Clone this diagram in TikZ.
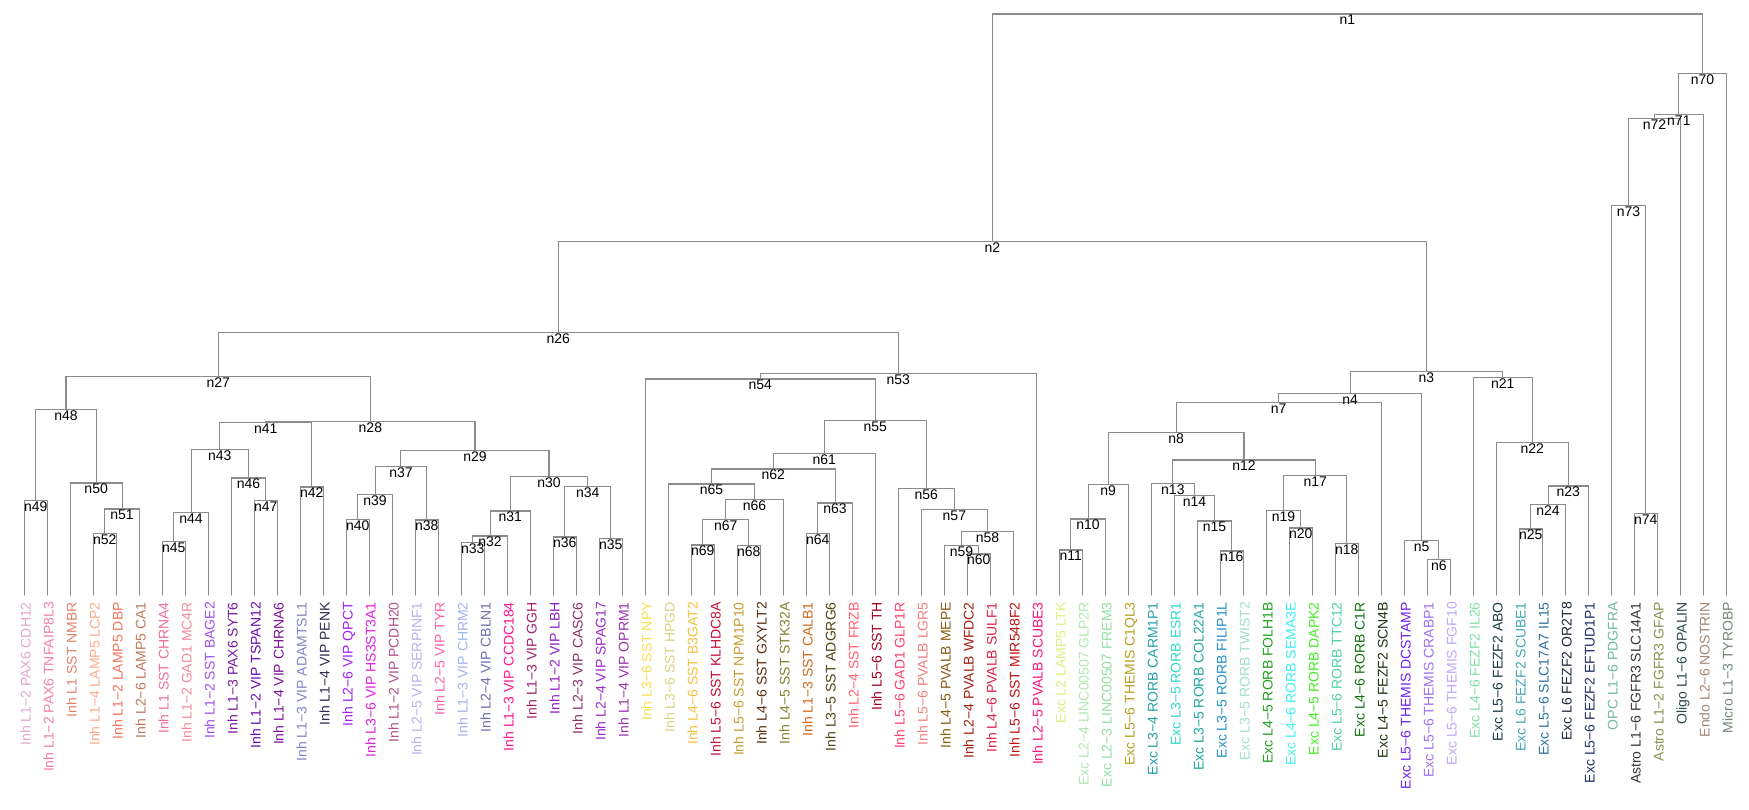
\documentclass[tikz,border=0pt]{standalone}
\usepackage{fontspec}
\setmainfont{Liberation Sans}
\usetikzlibrary{calc}
\tikzset{
  br/.style={draw={rgb,255:red,140;green,140;blue,140}, line width=1.1pt, line cap=round},
  nlab/.style={font=\fontsize{14}{16}\selectfont, inner sep=0pt, anchor=north, yshift=-1pt, text=black},
  leaflab/.style={font=\fontsize{14}{16}\selectfont, inner sep=0pt, rotate=90, anchor=east, text height=10pt, text depth=0pt}
}
\newcommand\dnode[4]{%
  \path let \p1=(#2), \p2=(#3) in coordinate (#1) at ({0.5*(\x1+\x2)},{-#4pt});
  \draw[br] (#2) |- (#1) -| (#3);
  \node[nlab] (lab#1) at (#1) {#1};
}
\begin{document}
\begin{tikzpicture}[x=1pt,y=-1pt]
\useasboundingbox (0,0) rectangle (1749,810);
\foreach \i/\hc/\t in {
1/E0A8CC/{Inh L1−2 PAX6 CDH12},
2/F27EAE/{Inh L1−2 PAX6 TNFAIP8L3},
3/E0826E/{Inh L1 SST NMBR},
4/FFAA88/{Inh L1−4 LAMP5 LCP2},
5/F2735A/{Inh L1−2 LAMP5 DBP},
6/C0785A/{Inh L2−6 LAMP5 CA1},
7/EE6E9A/{Inh L1 SST CHRNA4},
8/F28C9C/{Inh L1−2 GAD1 MC4R},
9/A050F0/{Inh L1−2 SST BAGE2},
10/7A1AA0/{Inh L1−3 PAX6 SYT6},
11/6A0DAD/{Inh L1−2 VIP TSPAN12},
12/7D109A/{Inh L1−4 VIP CHRNA6},
13/7F86C0/{Inh L1−3 VIP ADAMTSL1},
14/2D2D50/{Inh L1−4 VIP PENK},
15/A020F0/{Inh L2−6 VIP QPCT},
16/E020E0/{Inh L3−6 VIP HS3ST3A1},
17/B0508A/{Inh L1−2 VIP PCDH20},
18/B8B0F0/{Inh L2−5 VIP SERPINF1},
19/FF5FA8/{Inh L2−5 VIP TYR},
20/A0B4F0/{Inh L1−3 VIP CHRM2},
21/6E6EA8/{Inh L2−4 VIP CBLN1},
22/FF1493/{Inh L1−3 VIP CCDC184},
23/A0206E/{Inh L1−3 VIP GGH},
24/9020C0/{Inh L1−2 VIP LBH},
25/8B2D6B/{Inh L2−3 VIP CASC6},
26/9B2BC8/{Inh L2−4 VIP SPAG17},
27/9B30B0/{Inh L1−4 VIP OPRM1},
28/F7E050/{Inh L3−6 SST NPY},
29/E0D080/{Inh L3−6 SST HPGD},
30/F5C040/{Inh L4−6 SST B3GAT2},
31/C0103A/{Inh L5−6 SST KLHDC8A},
32/C89B30/{Inh L5−6 SST NPM1P10},
33/5A2D10/{Inh L4−6 SST GXYLT2},
34/8A8030/{Inh L4−5 SST STK32A},
35/D2691E/{Inh L1−3 SST CALB1},
36/5A4010/{Inh L3−5 SST ADGRG6},
37/FF6070/{Inh L2−4 SST FRZB},
38/A00020/{Inh L5−6 SST TH},
39/FF4070/{Inh L5−6 GAD1 GLP1R},
40/F08080/{Inh L5−6 PVALB LGR5},
41/8B5A10/{Inh L4−5 PVALB MEPE},
42/A02010/{Inh L2−4 PVALB WFDC2},
43/E0204A/{Inh L4−6 PVALB SULF1},
44/C01010/{Inh L5−6 SST MIR548F2},
45/FF1480/{Inh L2−5 PVALB SCUBE3},
46/D8F080/{Exc L2 LAMP5 LTK},
47/B0E8B0/{Exc L2−4 LINC00507 GLP2R},
48/90E0A0/{Exc L2−3 LINC00507 FREM3},
49/B0A020/{Exc L5−6 THEMIS C1QL3},
50/20A0A8/{Exc L3−4 RORB CARM1P1},
51/30D8C8/{Exc L3−5 RORB ESR1},
52/20A8A0/{Exc L3−5 RORB COL22A1},
53/2090C8/{Exc L3−5 RORB FILIP1L},
54/A0E0D0/{Exc L3−5 RORB TWIST2},
55/20A020/{Exc L4−5 RORB FOLH1B},
56/40F0F0/{Exc L4−6 RORB SEMA3E},
57/40F020/{Exc L4−5 RORB DAPK2},
58/50D0A0/{Exc L5−6 RORB TTC12},
59/107010/{Exc L4−6 RORB C1R},
60/203010/{Exc L4−5 FEZF2 SCN4B},
61/7020F0/{Exc L5−6 THEMIS DCSTAMP},
62/A070F0/{Exc L5−6 THEMIS CRABP1},
63/C0A8F8/{Exc L5−6 THEMIS FGF10},
64/80E0A0/{Exc L4−6 FEZF2 IL26},
65/1A3A40/{Exc L5−6 FEZF2 ABO},
66/40A8B8/{Exc L6 FEZF2 SCUBE1},
67/3070A0/{Exc L5−6 SLC17A7 IL15},
68/1A2840/{Exc L6 FEZF2 OR2T8},
69/203060/{Exc L5−6 FEZF2 EFTUD1P1},
70/70B8A0/{OPC L1−6 PDGFRA},
71/3A3530/{Astro L1−6 FGFR3 SLC14A1},
72/8A9050/{Astro L1−2 FGFR3 GFAP},
73/2A4850/{Oligo L1−6 OPALIN},
74/A08878/{Endo L2−6 NOSTRIN},
75/708870/{Micro L1−3 TYROBP}}{
  \edef\tmpcol{\noexpand\definecolor{lc}{HTML}{\hc}}\tmpcol
  \coordinate (L\i) at ({24.3+23*(\i-1)},595);
  \node[leaflab,text=lc] (T\i) at ({25.7+23*(\i-1)},602) {\t};
}
\dnode{n49}{L1}{L2}{500.7}
\dnode{n52}{L4}{L5}{533.7}
\dnode{n51}{n52}{L6}{509}
\dnode{n50}{L3}{n51}{483}
\dnode{n48}{n49}{n50}{409.3}
\dnode{n45}{L7}{L8}{541.7}
\dnode{n44}{n45}{L9}{512.3}
\dnode{n47}{L11}{L12}{500.3}
\dnode{n46}{L10}{n47}{478}
\dnode{n43}{n44}{n46}{449.3}
\dnode{n42}{L13}{L14}{487}
\dnode{n41}{n43}{n42}{422.3}
\dnode{n40}{L15}{L16}{519.7}
\dnode{n39}{n40}{L17}{494.7}
\dnode{n38}{L18}{L19}{520}
\dnode{n37}{n39}{n38}{466.7}
\dnode{n33}{L20}{L21}{542.7}
\dnode{n32}{n33}{L22}{536}
\dnode{n31}{n32}{L23}{511}
\dnode{n36}{L24}{L25}{537}
\dnode{n35}{L26}{L27}{538.7}
\dnode{n34}{n36}{n35}{486.3}
\dnode{n30}{n31}{n34}{476.7}
\dnode{n29}{n37}{n30}{450.3}
\dnode{n28}{n41}{n29}{421.5}
\dnode{n27}{n48}{n28}{376.7}
\dnode{n69}{L30}{L31}{545}
\dnode{n68}{L32}{L33}{545.3}
\dnode{n67}{n69}{n68}{519.3}
\dnode{n66}{n67}{L34}{499.3}
\dnode{n65}{L29}{n66}{484}
\dnode{n64}{L35}{L36}{533.3}
\dnode{n63}{n64}{L37}{503}
\dnode{n62}{n65}{n63}{469}
\dnode{n61}{n62}{L38}{453.7}
\dnode{n60}{L42}{L43}{554}
\dnode{n59}{L41}{n60}{545.3}
\dnode{n58}{n59}{L44}{531.7}
\dnode{n57}{L40}{n58}{509.7}
\dnode{n56}{L39}{n57}{488.3}
\dnode{n55}{n61}{n56}{420.7}
\dnode{n54}{L28}{n55}{379}
\dnode{n53}{n54}{L45}{373.3}
\dnode{n26}{n27}{n53}{332.3}
\dnode{n11}{L46}{L47}{550}
\dnode{n10}{n11}{L48}{519}
\dnode{n9}{n10}{L49}{484.7}
\dnode{n16}{L53}{L54}{551}
\dnode{n15}{L52}{n16}{521}
\dnode{n14}{L51}{n15}{495.3}
\dnode{n13}{L50}{n14}{483.3}
\dnode{n20}{L56}{L57}{528}
\dnode{n19}{L55}{n20}{510.7}
\dnode{n18}{L58}{L59}{543.7}
\dnode{n17}{n19}{n18}{475.3}
\dnode{n12}{n13}{n17}{460}
\dnode{n8}{n9}{n12}{432.7}
\dnode{n7}{n8}{L60}{402.3}
\dnode{n6}{L62}{L63}{559.7}
\dnode{n5}{L61}{n6}{540.7}
\dnode{n4}{n7}{n5}{393.7}
\dnode{n25}{L66}{L67}{529}
\dnode{n24}{n25}{L68}{504.9}
\dnode{n23}{n24}{L69}{486}
\dnode{n22}{L65}{n23}{442.2}
\dnode{n21}{L64}{n22}{377.5}
\dnode{n3}{n4}{n21}{371.6}
\dnode{n2}{n26}{n3}{241.5}
\dnode{n74}{L71}{L72}{513.9}
\dnode{n73}{L70}{n74}{205.7}
\dnode{n72}{n73}{L73}{118.5}
\dnode{n71}{n72}{L74}{114.8}
\dnode{n70}{n71}{L75}{73.8}
\dnode{n1}{n2}{n70}{14}
\end{tikzpicture}
\end{document}
